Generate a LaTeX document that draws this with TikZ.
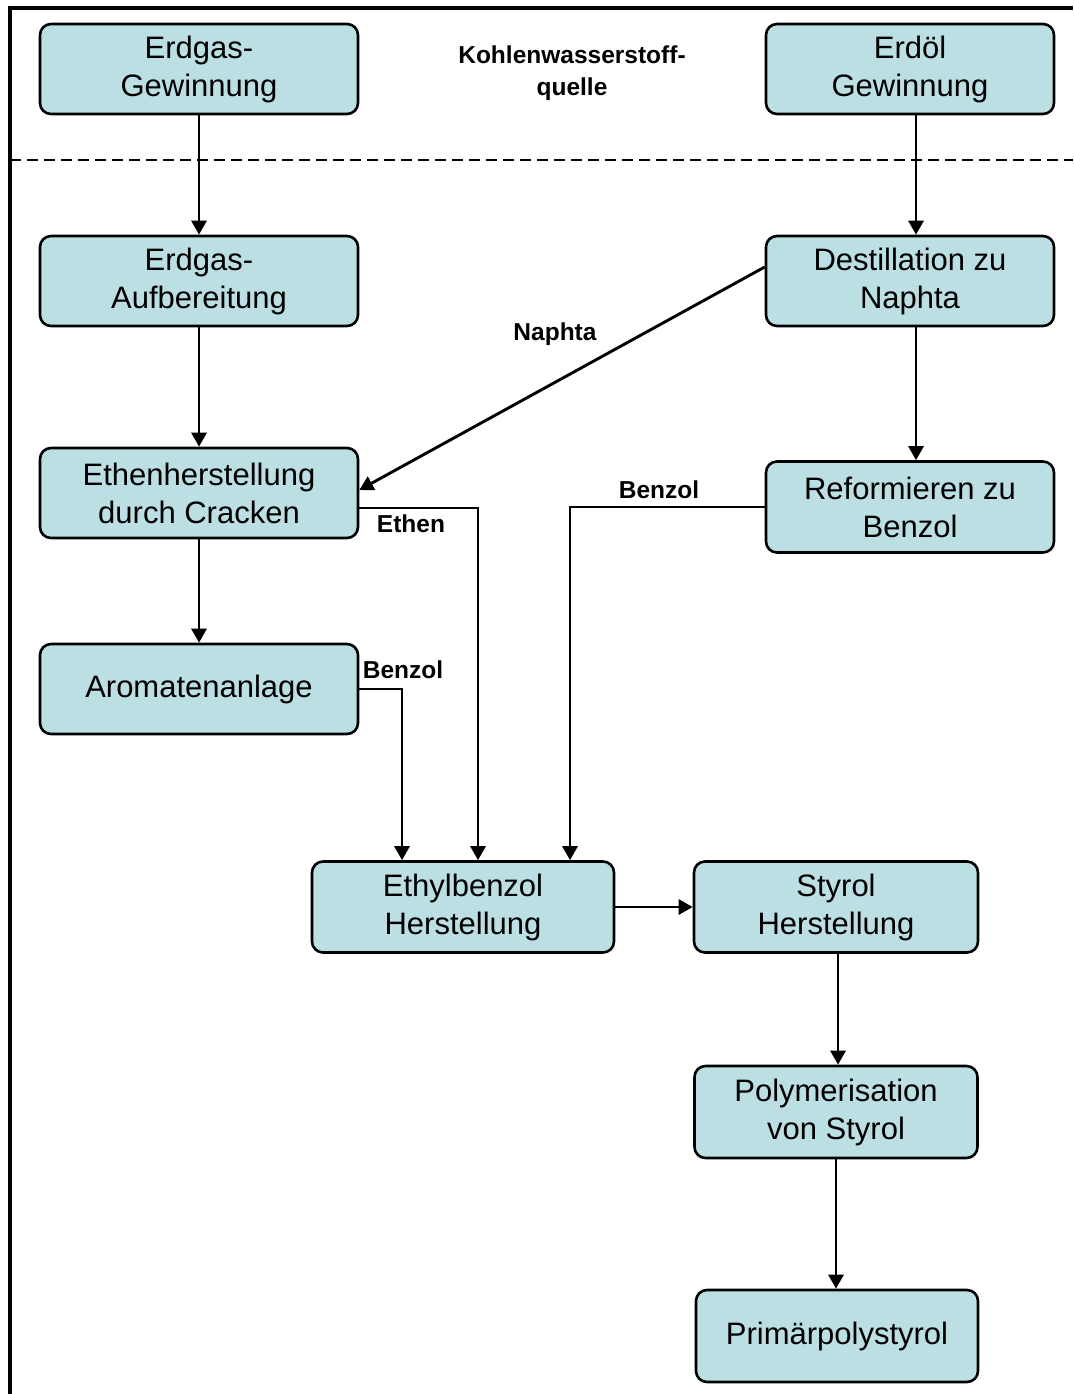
\documentclass[tikz,border=0pt]{standalone}
\usepackage{fontspec}
\setmainfont{Liberation Sans}
\usetikzlibrary{arrows.meta}
\definecolor{boxfill}{RGB}{188,223,227}
\begin{document}
\begin{tikzpicture}[x=1pt,y=-1pt,
  box/.style={draw=black, line width=2.6pt, fill=boxfill, rounded corners=11pt,
    align=center, inner sep=0pt, font=\fontsize{31}{38}\selectfont},
  arr/.style={line width=2.9pt, -{Triangle[length=14pt,width=15pt]}},
  lbl/.style={font=\fontsize{24.5}{32}\selectfont\bfseries, inner sep=0pt, align=center}]
\useasboundingbox (0,0) rectangle (1073,1394);
\fill[white] (0,0) rectangle (1073,1394);
% frame
\draw[line width=3.2pt] (10,1394) -- (10,8) -- (1073,8);
\draw[line width=2.8pt, dash pattern=on 11pt off 6pt] (10,160) -- (1073,160);
% nodes
\node[box, minimum width=318pt, minimum height=90pt] (eg) at (199,69) {Erdgas-\\Gewinnung};
\node[box, minimum width=288pt, minimum height=90pt] (eo) at (910,69) {Erdöl\\Gewinnung};
\node[lbl] (kw) at (572,73) {Kohlenwasserstoff-\\quelle};
\node[box, minimum width=318pt, minimum height=90pt] (ea) at (199,281) {Erdgas-\\Aufbereitung};
\node[box, minimum width=288pt, minimum height=90pt] (dn) at (910,281) {Destillation zu\\Naphta};
\node[box, minimum width=318pt, minimum height=90pt] (ec) at (199,493) {Ethenherstellung\\durch Cracken};
\node[box, minimum width=288pt, minimum height=91pt] (rf) at (910,507) {Reformieren zu\\Benzol};
\node[box, minimum width=318pt, minimum height=90pt] (ar) at (199,689) {Aromatenanlage};
\node[box, minimum width=302pt, minimum height=91pt] (eb) at (463,907) {Ethylbenzol\\Herstellung};
\node[box, minimum width=284pt, minimum height=91pt] (st) at (836,907) {Styrol\\Herstellung};
\node[box, minimum width=283pt, minimum height=92pt] (po) at (836,1112) {Polymerisation\\von Styrol};
\node[box, minimum width=282pt, minimum height=92pt] (pp) at (837,1336) {Primärpolystyrol};
% labels
\node[lbl] (ln) at (555,334) {Naphta};
\node[lbl] (le) at (411,524) {Ethen};
\node[lbl] (lb1) at (659,490) {Benzol};
\node[lbl] (lb2) at (403,670) {Benzol};
% connectors
\draw[arr] (eg) -- (ea);
\draw[arr] ([xshift=6pt]eo.south) -- ([xshift=6pt]dn.north);
\draw[arr] (ea) -- (ec);
\draw[arr] ([xshift=6pt]dn.south) -- ([xshift=6pt]rf.north);
\draw[arr] ([yshift=14pt]dn.west) -- ([yshift=3pt]ec.east);
\draw[arr] ([yshift=-15pt]ec.east) -| ([xshift=15pt]eb.north);
\draw[arr] (rf.west) -| ([xshift=107pt]eb.north);
\draw[arr] (ec) -- (ar);
\draw[arr] (ar.east) -| ([xshift=-61pt]eb.north);
\draw[arr] (eb) -- (st);
\draw[arr] ([xshift=2pt]st.south) -- ([xshift=2pt]po.north);
\draw[arr] (po) -- (pp.north -| po.south);
\end{tikzpicture}
\end{document}
